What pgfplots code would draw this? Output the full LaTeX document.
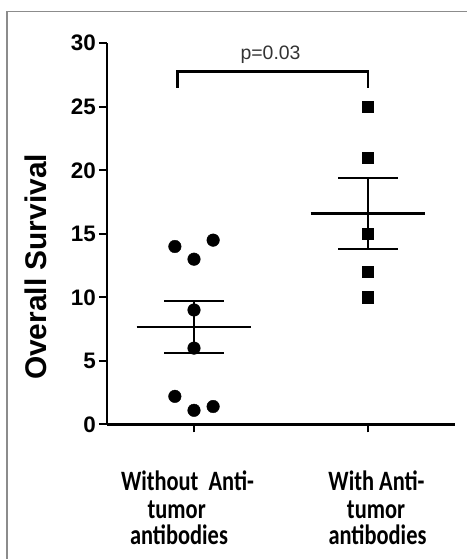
\documentclass[border=0pt]{standalone}
\usepackage{pgfplots}
\pgfplotsset{compat=1.18}
\usepackage{fontspec}
\setmainfont{Liberation Sans}
\newfontfamily\calib{Carlito}

\begin{document}
\begin{tikzpicture}
\useasboundingbox (0bp,0bp) rectangle (467bp,559bp);
% frame round the figure (only left and top edges visible)
\draw[black!45, line width=1.4bp] (7bp,-5bp) -- (7bp,547.5bp) -- (475bp,547.5bp);

\begin{axis}[
  at={(107bp,134.7bp)}, anchor=south west,
  scale only axis, width=348bp, height=381bp,
  xmin=0.5, xmax=2.5, ymin=0, ymax=30,
  axis x line=bottom, axis y line=left,
  axis line style={-, line width=2.6bp},
  xtick={1,2}, xticklabels={},
  ytick={0,5,...,30},
  tick align=outside,
  major tick length=8bp,
  tick style={line width=2.2bp, black},
  /pgf/number format/assume math mode=true,
  yticklabel={\bfseries\fontsize{22.5}{22.5}\selectfont\pgfmathprintnumber{\tick}},
  yticklabel style={inner sep=0bp, xshift=-3bp},
  ylabel={Overall Survival},
  ylabel style={at={(rel axis cs:-0.204,0.413)}, anchor=center,
                font=\bfseries\fontsize{30}{30}\selectfont},
  clip=false,
]
% without anti-tumor antibodies
\addplot[only marks, mark=*, mark size=6.3bp, black] coordinates {
  (0.89,14.0) (1,13.0) (1.11,14.5) (1,9.0) (1,6.0)
  (0.89,2.2) (1,1.1) (1.11,1.4)};
% with anti-tumor antibodies
\addplot[only marks, mark=square*, mark size=5.6bp, black] coordinates {
  (2,25) (2,21) (2,15) (2,12) (2,10)};

% mean and SEM, group 1
\addplot[black, line width=2.4bp] coordinates {(0.67,7.65) (1.33,7.65)};
\addplot[black, line width=2.4bp] coordinates {(0.83,9.69) (1.17,9.69)};
\addplot[black, line width=2.4bp] coordinates {(0.83,5.61) (1.17,5.61)};
\addplot[black, line width=2.4bp] coordinates {(1,5.61) (1,9.69)};
% mean and SEM, group 2
\addplot[black, line width=2.4bp] coordinates {(1.67,16.6) (2.33,16.6)};
\addplot[black, line width=2.4bp] coordinates {(1.83,19.4) (2.17,19.4)};
\addplot[black, line width=2.4bp] coordinates {(1.83,13.8) (2.17,13.8)};
\addplot[black, line width=2.4bp] coordinates {(2,13.8) (2,19.4)};

% significance bracket
\addplot[black, line width=2.6bp] coordinates {
  (0.905,26.5) (0.905,27.8) (2,27.8) (2,26.5)};
\node[anchor=base, font=\fontsize{19.5}{19.5}\selectfont, text=black!80]
  at (axis cs:1.44,28.7) {p=0.03};
\end{axis}

% category labels
\begin{scope}[every node/.style={anchor=base, yscale=1.25, inner sep=0pt,
    font=\calib\bfseries\fontsize{22.5}{22.5}\selectfont}]
\node at (187.5bp,68bp) {Without\ \ Anti-};
\node at (176.7bp,40.7bp) {tumor};
\node at (179bp,14.7bp) {antibodies};
\node at (376.5bp,68bp) {With Anti-};
\node at (376bp,40.7bp) {tumor};
\node at (377.5bp,14.7bp) {antibodies};
\end{scope}
\end{tikzpicture}
\end{document}
